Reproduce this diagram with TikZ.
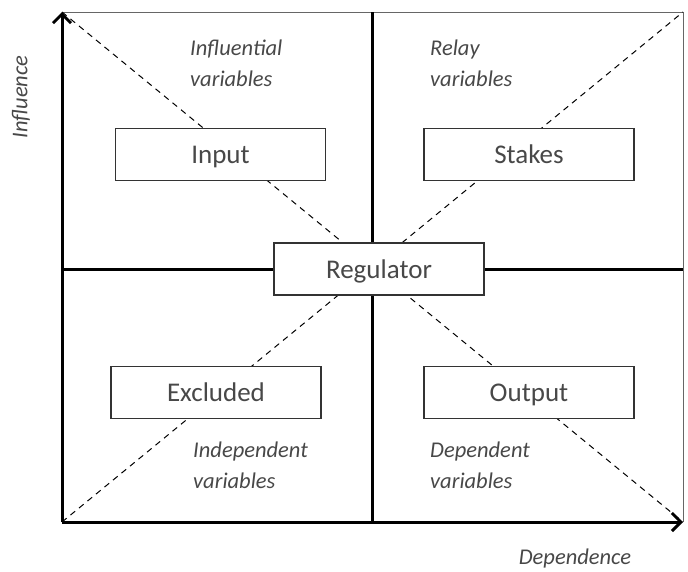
\documentclass[tikz,border=0pt]{standalone}
\usepackage{fontspec}
\setmainfont{Carlito}
\usetikzlibrary{arrows.meta}
\definecolor{txt}{RGB}{72,72,72}
\tikzset{
  x=1pt, y=-1pt,
  quadbox/.style={draw=black!80, line width=1.3pt, fill=white, minimum width=210pt, minimum height=52pt, inner sep=0pt, text=txt, text height=22pt, text depth=4pt, font=\fontsize{27}{30}\selectfont},
  axis/.style={line width=3pt, -{Straight Barb[length=9pt, width=18pt, line width=3pt]}},
  midline/.style={line width=3pt},
  diag/.style={line width=1pt, dash pattern=on 6pt off 5pt},
  frame/.style={line width=1pt, draw=black!60},
  note/.style={text=txt, font=\fontsize{22.5}{31}\selectfont\itshape, align=left, anchor=north west, inner sep=0pt},
  axtitle/.style={text=txt, font=\fontsize{22.5}{26}\selectfont\itshape, inner sep=0pt},
}
\begin{document}
\begin{tikzpicture}
\useasboundingbox (0,0) rectangle (688,571);
% corner points of the chart area
\coordinate (O) at (62,522);
\coordinate (TL) at (62,12);
\coordinate (TR) at (683,12);
\coordinate (BR) at (683,522);
\coordinate (mt) at (372,12);
\coordinate (mb) at (372,522);
\coordinate (ml) at (62,269);
\coordinate (mr) at (683,269);
% frame and diagonals
\draw[frame] (TL) -- (TR) -- (BR);
\draw[diag] (TL) -- (BR);
\draw[diag] (O) -- (TR);
% quadrant dividers
\draw[midline] (mt) -- (mb);
\draw[midline] (ml) -- (mr);
% axes
\draw[axis] (O) -- (TL);
\draw[axis] (O) -- (BR);
% boxes
\node[quadbox] (input) at (220.5,154.5) {Input};
\node[quadbox] (stakes) at (529,154.5) {Stakes};
\node[quadbox] (reg) at (379,269) {Regulator};
\node[quadbox] (excl) at (216,392.5) {Excluded};
\node[quadbox] (outp) at (529,392.5) {Output};
% quadrant notes
\node[note] (n1) at (190,40) {Influential\\variables};
\node[note] (n2) at (430,40) {Relay\\variables};
\node[note] (n3) at (193,442) {Independent\\variables};
\node[note] (n4) at (430,442) {Dependent\\variables};
% axis titles
\node[axtitle, rotate=90] (yl) at (21,97) {Influence};
\node[axtitle] (xl) at (575,558) {Dependence};
\end{tikzpicture}
\end{document}
